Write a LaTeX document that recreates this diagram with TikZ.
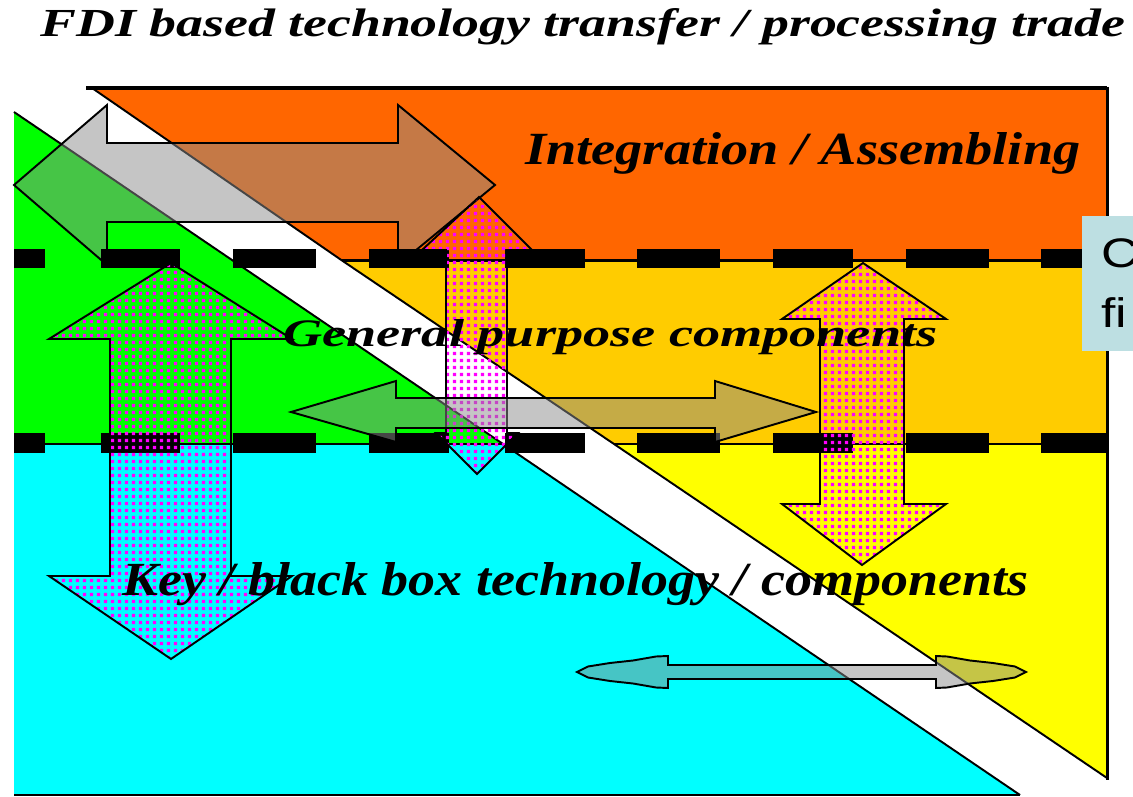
\documentclass[tikz,border=0pt]{standalone}
\usepackage{fontspec}
\setmainfont{Liberation Serif}
\setsansfont{Liberation Sans}
\usetikzlibrary{patterns}

\definecolor{orangeband}{HTML}{FF6600}
\definecolor{goldband}{HTML}{FFCC00}
\definecolor{yellowband}{HTML}{FFFF00}
\definecolor{greenband}{HTML}{00FF00}
\definecolor{cyanband}{HTML}{00FFFF}
\definecolor{dotmag}{HTML}{FF00FF}
\definecolor{checkgray}{HTML}{8C8C8C}
\definecolor{notebg}{HTML}{BDDFE2}

% sparse square dots used inside the vertical block arrows
\pgfdeclarepatternformonly{magdots}{\pgfpointorigin}{\pgfpoint{3.9pt}{3.9pt}}{\pgfpoint{3.9pt}{3.9pt}}{%
  \pgfpathrectangle{\pgfpoint{0.5pt}{0.5pt}}{\pgfpoint{1.9pt}{1.9pt}}\pgfusepath{fill}}

\tikzset{
  edgeline/.style={line width=1.1pt},
  bandline/.style={line width=1.5pt},
  dashbar/.style={fill=black},
  grayarrow/.style={fill=checkgray, fill opacity=0.5, draw=black, line width=1.1pt, line join=miter},
  dotarrow/.style={pattern=magdots, pattern color=dotmag, draw=black, line width=1.1pt, line join=miter},
  lbl/.style={anchor=base west, inner sep=0pt, font=\bfseries\itshape},
  notetext/.style={anchor=base west, inner sep=0pt, font=\sffamily\fontsize{23.5}{28}\selectfont},
}

\begin{document}
\begin{tikzpicture}[x=0.02cm, y=-0.02cm]
\useasboundingbox (0,0) rectangle (1133,797);
\fill[white] (0,0) rectangle (1133,797);

% coloured bands
\fill[orangeband] (92,88) -- (1107,88) -- (1107,260.5) -- (342,260.5) -- cycle;
\fill[goldband] (342,260.5) -- (1107,260.5) -- (1107,444) -- (614,444) -- cycle;
\fill[yellowband] (614,444) -- (1107,444) -- (1107,778) -- cycle;
\fill[greenband] (14,112) -- (503,444) -- (14,444) -- cycle;
\fill[cyanband] (14,444) -- (503,444) -- (1020,795) -- (14,795) -- cycle;

% outlines of the bands
\draw[edgeline] (92,88) -- (342,260.5) -- (614,444) -- (1107,778);
\draw[edgeline] (14,112) -- (1020,795);
\draw[line width=2.2pt] (86,88) -- (1107,88);
\draw[line width=1.7pt] (1107,87) -- (1107,780);
\draw[edgeline] (14,795) -- (1020,795);
\draw[bandline] (342,260.5) -- (1107,260.5);
\draw[bandline] (14,444) -- (503,444);
\draw[bandline] (614,444) -- (1107,444);

% horizontal double arrow across the top band
\draw[grayarrow] (14,185) -- (107,105) -- (107,143) -- (398,143) -- (398,105) -- (495,185)
  -- (398,265) -- (398,222) -- (107,222) -- (107,265) -- cycle;

% dashed band separators
\foreach \xa/\xb in {14/45,101/180,233/316,369/449,505/585,637/720,773/853,906/989,1041/1107}{
  \fill[dashbar] (\xa,249) rectangle (\xb,268);
  \fill[dashbar] (\xa,433) rectangle (\xb,453);
}

% vertical dotted double arrows
\draw[dotarrow] (171,263) -- (292,339) -- (231,339) -- (231,576) -- (292,576) -- (171,659)
  -- (49,576) -- (110,576) -- (110,339) -- (49,339) -- cycle;
\draw[dotarrow] (479,197) -- (532,250) -- (507,250) -- (507,433) -- (518,433) -- (477,474)
  -- (436,433) -- (446,433) -- (446,250) -- (422,250) -- cycle;
\draw[dotarrow] (863,263) -- (946,319) -- (904,319) -- (904,504) -- (946,504) -- (862,565)
  -- (782,504) -- (820,504) -- (820,319) -- (782,319) -- cycle;

% horizontal gray double arrows
\draw[grayarrow] (291,412) -- (396,381) -- (396,398) -- (715,398) -- (715,381) -- (816,412)
  -- (715,442) -- (715,428) -- (396,428) -- (396,442) -- cycle;
\draw[grayarrow] (577,672) -- (588,666.5) -- (610,663) -- (633,660.5) -- (656,656.5) -- (668,656)
  -- (668,665) -- (936,665) -- (936,656) -- (947,656.5) -- (970,660.5) -- (993,663)
  -- (1015,666.5) -- (1026,672) -- (1015,677.5) -- (993,681) -- (970,683.5) -- (947,687.5)
  -- (936,688) -- (936,679) -- (668,679) -- (668,688) -- (656,687.5) -- (633,683.5)
  -- (610,681) -- (588,677.5) -- cycle;

% labels
\node[lbl] (title) at (40,37) {\resizebox{21.70cm}{0.56cm}{FDI based technology transfer / processing trade}};
\node[lbl] (integ) at (525,165) {\resizebox{11.10cm}{0.64cm}{Integration / Assembling}};
\node[lbl] (general) at (283,346) {\resizebox{13.08cm}{0.54cm}{General purpose components}};
\node[lbl] (keytech) at (122,595) {\resizebox{18.12cm}{0.66cm}{Key / black box technology / components}};

% side note box
\fill[notebg] (1082,216) rectangle (1200,351);
\node[notetext] (noteA) at (1101,268) {\scalebox{1.25}[1]{C}};
\node[notetext] (noteB) at (1101,328) {\scalebox{1.25}[1]{fi}};
\end{tikzpicture}
\end{document}
